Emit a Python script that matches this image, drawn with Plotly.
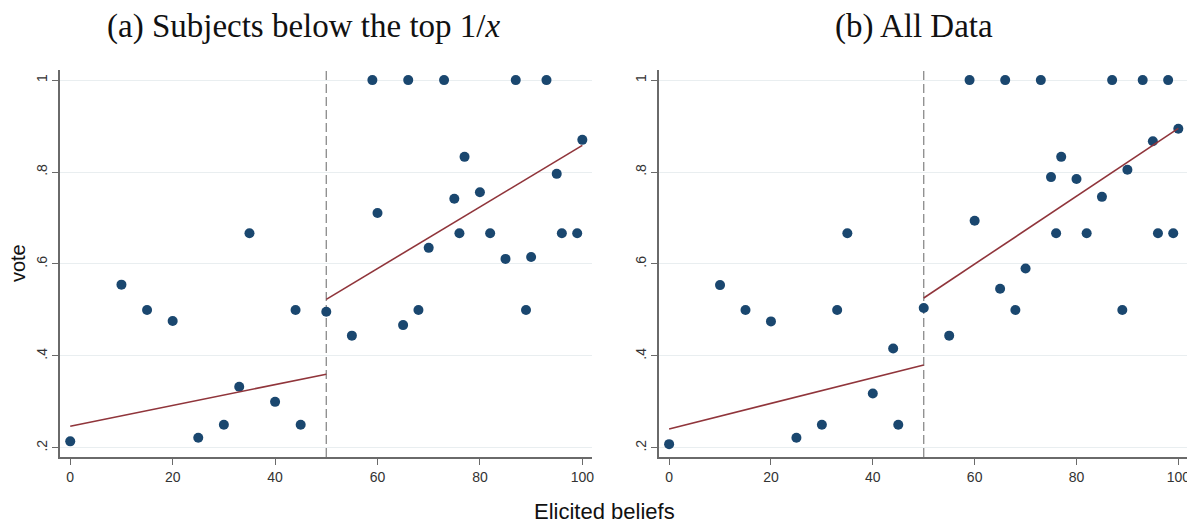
import plotly.graph_objects as go

# ---------------- data ----------------
beliefs_a = [0, 10, 15, 20, 25, 30, 33, 35, 40, 44, 45, 50, 55, 59, 60, 65, 66, 68, 70,
             73, 75, 76, 77, 80, 82, 85, 87, 89, 90, 93, 95, 96, 99, 100]
vote_a = [0.214, 0.555, 0.5, 0.476, 0.222, 0.25, 0.333, 0.667, 0.30, 0.5, 0.25, 0.496,
          0.444, 1.0, 0.711, 0.467, 1.0, 0.5, 0.635, 1.0, 0.742, 0.667, 0.833, 0.756,
          0.667, 0.611, 1.0, 0.5, 0.615, 1.0, 0.796, 0.667, 0.667, 0.870]

beliefs_b = [0, 10, 15, 20, 25, 30, 33, 35, 40, 44, 45, 50, 55, 59, 60, 65, 66, 68, 70,
             73, 75, 76, 77, 80, 82, 85, 87, 89, 90, 93, 95, 96, 98, 99, 100]
vote_b = [0.208, 0.554, 0.5, 0.475, 0.222, 0.25, 0.5, 0.667, 0.318, 0.416, 0.25, 0.504,
          0.444, 1.0, 0.694, 0.546, 1.0, 0.5, 0.590, 1.0, 0.789, 0.667, 0.833, 0.785,
          0.667, 0.746, 1.0, 0.5, 0.805, 1.0, 0.867, 0.667, 1.0, 0.667, 0.894]

fit_x_low = [0, 50]
fit_x_high = [50, 100]
fit_a_low = [0.247, 0.360]
fit_a_high = [0.523, 0.858]
fit_b_low = [0.241, 0.380]
fit_b_high = [0.526, 0.895]

cutoff = 50
y_tickvals = [0.2, 0.4, 0.6, 0.8, 1.0]
y_ticktext = [".2", ".4", ".6", ".8", "1"]
x_tickvals = [0, 20, 40, 60, 80, 100]

titles = ["(a) Subjects below the top 1/<i>x</i>", "(b) All Data"]
y_title = "vote"
x_title = "Elicited beliefs"

# ---------------- style ----------------
NAVY = "#1a476f"
MAROON = "#90353b"
AXIS = "#6a6a6a"
GRID = "#e9eef0"
TICKFONT = dict(family="Liberation Sans, Arial, sans-serif", size=14, color="#333333")

# page body has an 8px margin; compensate so the plot lands where the reference has it
PAGE_OFF = 8
W, H = 1195 - PAGE_OFF, 525 - PAGE_OFF
PLOT_L, PLOT_R, PLOT_T, PLOT_B = 60, 1190, 70, 457   # reference pixel coords
PW, PH = PLOT_R - PLOT_L, PLOT_B - PLOT_T


def px_x(xr):
    return (xr - PLOT_L) / PW


def px_y(yr):
    return (PLOT_B - yr) / PH


fig = go.Figure()

panels = [
    (beliefs_a, vote_a, fit_a_low, fit_a_high, "x", "y"),
    (beliefs_b, vote_b, fit_b_low, fit_b_high, "x2", "y2"),
]
for bx, vy, flo, fhi, xa, ya in panels:
    fig.add_trace(go.Scatter(x=bx, y=vy, mode="markers", xaxis=xa, yaxis=ya,
                             marker=dict(color=NAVY, size=10, line=dict(width=0)),
                             showlegend=False, hoverinfo="x+y"))
    fig.add_trace(go.Scatter(x=fit_x_low, y=flo, mode="lines", xaxis=xa, yaxis=ya,
                             line=dict(color=MAROON, width=1.6), showlegend=False))
    fig.add_trace(go.Scatter(x=fit_x_high, y=fhi, mode="lines", xaxis=xa, yaxis=ya,
                             line=dict(color=MAROON, width=1.6), showlegend=False))
    fig.add_shape(type="line", xref=xa, yref=f"{ya} domain", x0=cutoff, x1=cutoff,
                  y0=0, y1=1, line=dict(color="#8a8a8a", width=1.3, dash="9px,4px"),
                  layer="below")

xaxis_common = dict(range=[-2, 101.9], tickvals=x_tickvals, showgrid=False, zeroline=False,
                    showline=True, linecolor=AXIS, linewidth=1.5, ticks="outside",
                    ticklen=6, tickcolor=AXIS, tickwidth=1.2, tickfont=TICKFONT)
yaxis_common = dict(range=[0.18, 1.022], tickvals=y_tickvals, ticktext=y_ticktext,
                    showgrid=True, gridcolor=GRID, gridwidth=1.2, zeroline=False,
                    showline=True, linecolor=AXIS, linewidth=1.5, ticks="outside",
                    ticklen=6, tickcolor=AXIS, tickwidth=1.2, tickfont=TICKFONT,
                    tickangle=-90, domain=[0, 1])

fig.update_layout(
    width=W, height=H,
    margin=dict(l=PLOT_L - PAGE_OFF, r=W - (PLOT_R - PAGE_OFF),
                t=PLOT_T - PAGE_OFF, b=H - (PLOT_B - PAGE_OFF)),
    paper_bgcolor="white", plot_bgcolor="white",
    xaxis=dict(xaxis_common, domain=[0, px_x(593)], anchor="y"),
    yaxis=dict(yaxis_common, anchor="x"),
    xaxis2=dict(xaxis_common, domain=[px_x(660), 1.0], anchor="y2"),
    yaxis2=dict(yaxis_common, anchor="x2"),
)

TITLEFONT = dict(family="Liberation Serif, Times New Roman, serif", size=33, color="#111111")
fig.add_annotation(text=titles[0], xref="paper", yref="paper", x=px_x(304), y=px_y(27),
                   xanchor="center", yanchor="middle", showarrow=False, font=TITLEFONT)
fig.add_annotation(text=titles[1], xref="paper", yref="paper", x=px_x(916), y=px_y(27),
                   xanchor="center", yanchor="middle", showarrow=False, font=TITLEFONT)
fig.add_annotation(text=y_title, xref="paper", yref="paper", x=px_x(18), y=px_y(263),
                   xanchor="center", yanchor="middle", textangle=-90, showarrow=False,
                   font=dict(family="Liberation Sans, Arial, sans-serif", size=20,
                             color="#111111"))
fig.add_annotation(text=x_title, xref="paper", yref="paper", x=px_x(605), y=px_y(511),
                   xanchor="center", yanchor="middle", showarrow=False,
                   font=dict(family="Liberation Sans, Arial, sans-serif", size=22,
                             color="#111111"))

fig.write_html("out.html")
